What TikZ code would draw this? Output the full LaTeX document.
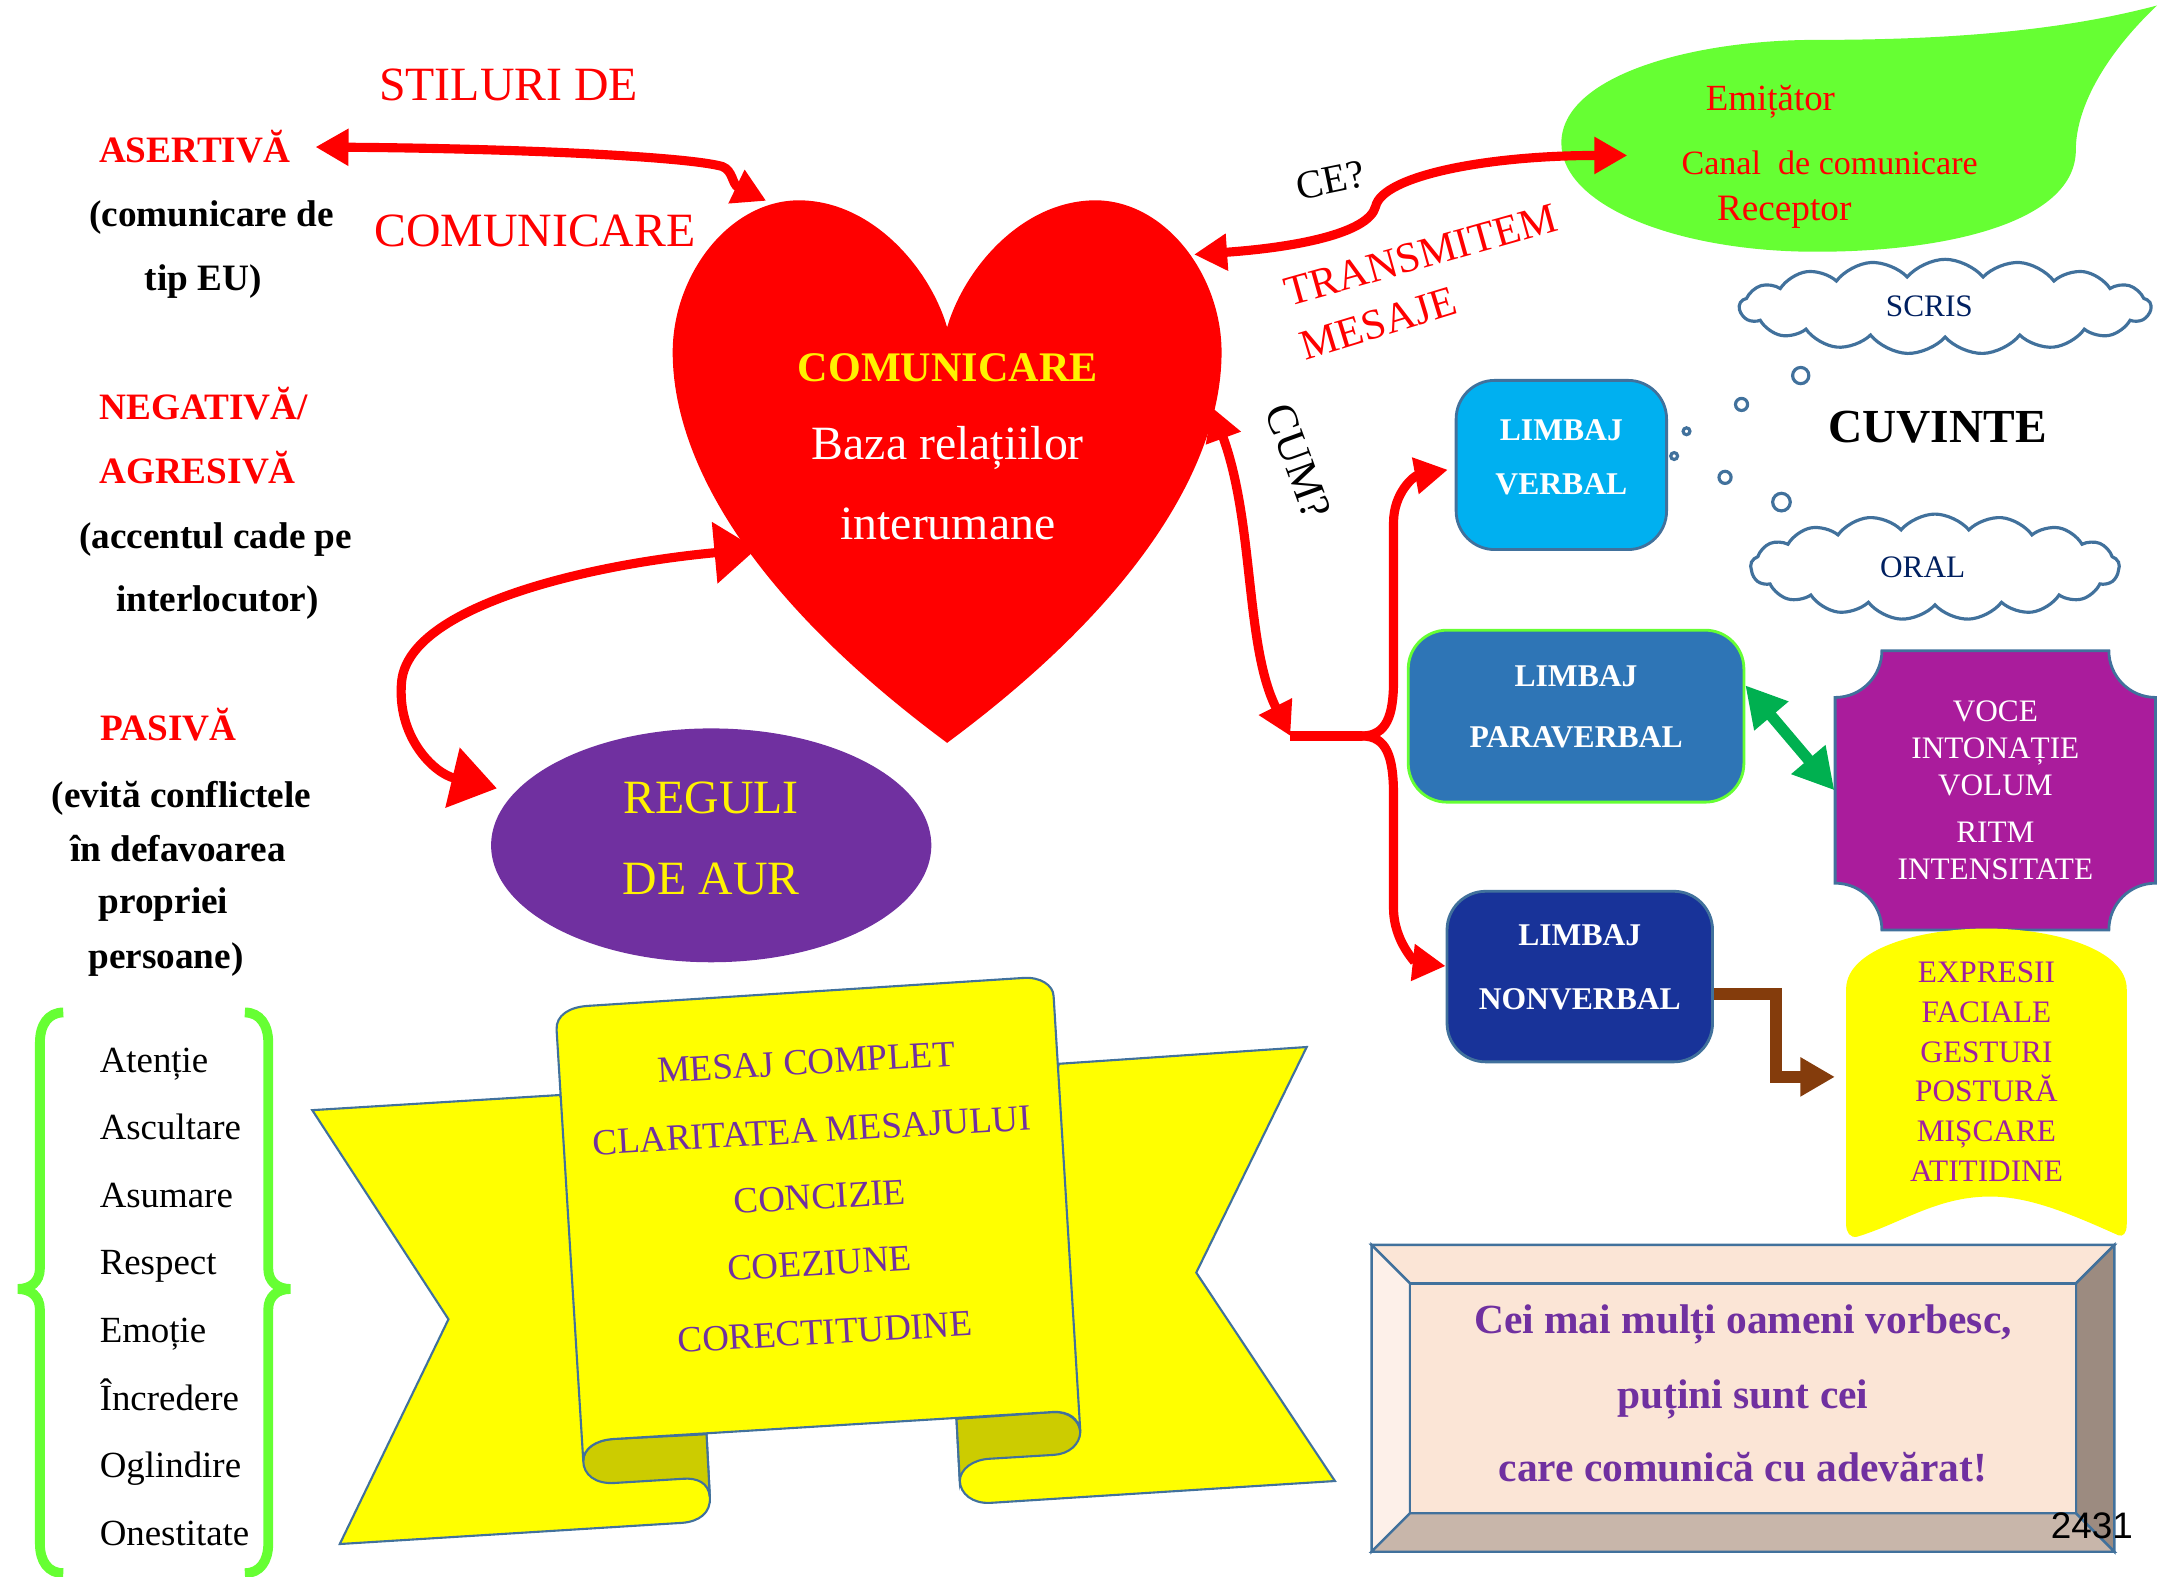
\documentclass[tikz,border=0pt]{standalone}
\usepackage{fontspec}
\setmainfont{Liberation Serif}
\newfontfamily\arialfont{Liberation Sans}
\usetikzlibrary{arrows.meta,shapes.geometric,shapes.symbols}

\definecolor{heartred}{HTML}{FF0000}
\definecolor{leafgreen}{HTML}{66FF33}
\definecolor{skyblue}{HTML}{00B0F0}
\definecolor{midblue}{HTML}{2E75B6}
\definecolor{navyblue}{HTML}{183399}
\definecolor{plumpurple}{HTML}{AA1C9C}
\definecolor{edgeblue}{HTML}{41719C}
\definecolor{cloudtext}{HTML}{002060}
\definecolor{regpurple}{HTML}{7030A0}
\definecolor{ribbonyellow}{HTML}{FFFF00}
\definecolor{folddark}{HTML}{CCCC00}
\definecolor{arrowgreen}{HTML}{00B050}
\definecolor{arrowbrown}{HTML}{843C0C}
\definecolor{magentatext}{HTML}{A020A0}
\definecolor{peach}{HTML}{FBE5D6}
\definecolor{peachlight}{HTML}{FDF0E9}
\definecolor{bevelright}{HTML}{9C8B80}
\definecolor{bevelbottom}{HTML}{C8B6AA}

\newcommand{\pu}{0.013756cm}
\newcommand{\lowstrut}[1]{\rule[-#1]{0pt}{#1}}

\begin{document}
\begin{tikzpicture}[x=0.013756cm, y=-0.013756cm,
  txt/.style={anchor=base, inner sep=0pt},
  bigred/.style={txt, text=red, font=\fontsize{13.6}{16}\selectfont},
  stilred/.style={txt, text=red, font=\fontsize{10.6}{12}\selectfont\bfseries},
  stilnote/.style={txt, font=\fontsize{10.6}{12}\selectfont\bfseries},
  bracetxt/.style={txt, anchor=base west, font=\fontsize{10.5}{12}\selectfont},
  greenbrace/.style={draw=leafgreen, line width=2.8pt},
  redline/.style={draw=red, line width=2.6pt},
  redarr/.style={redline, {Triangle[length=9.4pt,width=10pt]}-{Triangle[length=9.4pt,width=10pt]}},
  redtip/.style={redline, -{Triangle[length=9.4pt,width=10pt]}},
  bigredarr/.style={redline, {Triangle[length=12pt,width=17pt]}-{Triangle[length=13pt,width=17pt]}},
  limbaj/.style={rectangle, rounded corners=11pt, text=white, align=center, inner sep=0pt, line width=0.8pt},
  cloudy/.style={cloud, cloud puffs=17, cloud puff arc=100, aspect=4, draw=edgeblue, fill=white,
    line width=0.9pt, text=cloudtext, font=\fontsize{8.9}{10}\selectfont, inner sep=0pt},
  bubble/.style={draw=edgeblue, line width=0.9pt, fill=white},
  ribbon/.style={draw=edgeblue, line width=0.6pt, fill=ribbonyellow},
  ribbontxt/.style={txt, rotate=3.3, text=regpurple, font=\fontsize{10.5}{12}\selectfont},
  bevel/.style={draw=edgeblue, line width=0.7pt},
  quotetxt/.style={txt, text=regpurple, font=\fontsize{11.8}{14}\selectfont\bfseries},
  greenarr/.style={draw=arrowgreen, line width=3.2pt, {Triangle[length=11.5pt,width=12pt]}-{Triangle[length=11.5pt,width=12pt]}},
  brownarr/.style={draw=arrowbrown, line width=3.5pt, -{Triangle[length=9.8pt,width=10.5pt]}, shorten >=3pt},
]
\useasboundingbox (0,0) rectangle (1568,1146);

% stiluri de comunicare
\node[bigred] (stiluri) at (369.7,73) {STILURI DE};
\node[bigred] (stilcom) at (388.9,179.4) {COMUNICARE};
\node[stilred] (asertiva) at (141.5,118.4) {ASERTIVĂ};
\node[stilnote] (asertiva1) at (153.8,164.9) {(comunicare de};
\node[stilnote] (asertiva2) at (147.6,211) {tip EU)};
\node[stilred] (negativa) at (148,305) {NEGATIVĂ/};
\node[stilred] (agresiva) at (143.6,351.4) {AGRESIVĂ};
\node[stilnote] (agresiva1) at (156.8,398.5) {(accentul cade pe};
\node[stilnote] (agresiva2) at (158,444.6) {interlocutor)};
\node[stilred] (pasiva) at (122.7,538.5) {PASIVĂ};
\node[stilnote] (pasiva1) at (132,587) {(evită conflictele};
\node[stilnote] (pasiva2) at (129.3,626) {în defavoarea};
\node[stilnote] (pasiva3) at (118.8,664) {propriei};
\node[stilnote] (pasiva4) at (120.6,704) {persoane)};

% acolade verzi
\draw[greenbrace] (46,736) .. controls (35,736) and (29,745) .. (29,758) -- (29,922)
  .. controls (29,932) and (22,937) .. (13,937) .. controls (22,937) and (29,942) .. (29,952)
  -- (29,1122) .. controls (29,1135) and (35,1143.6) .. (46,1143.6);
\draw[greenbrace] (178,736) .. controls (189,736) and (195,745) .. (195,758) -- (195,922)
  .. controls (195,932) and (202,937) .. (211,937) .. controls (202,937) and (195,942) .. (195,952)
  -- (195,1122) .. controls (195,1135) and (189,1143.6) .. (178,1143.6);
\foreach \w [count=\i from 0] in {Atenție,Ascultare,Asumare,Respect,Emoție,Încredere,Oglindire,Onestitate}
  \node[bracetxt] (valoare\i) at (72,{779.5+49.1*\i}) {\w};

% inima
\fill[heartred] (688.5,238) .. controls (676,195) and (634,146) .. (581,145.6)
  .. controls (530,145.6) and (489,200) .. (489,256)
  .. controls (489,330) and (540,430) .. (688.5,540)
  .. controls (837,430) and (888,330) .. (888,256)
  .. controls (888,200) and (847,145.6) .. (796,145.6)
  .. controls (743,146) and (701,195) .. (688.5,238) -- cycle;
\node[txt, text=yellow, font=\fontsize{12}{14}\selectfont\bfseries] (heartttl) at (689,277) {COMUNICARE};
\node[txt, text=white, font=\fontsize{13.6}{16}\selectfont] (heartbaza) at (689,334) {Baza relațiilor};
\node[txt, text=white, font=\fontsize{13.6}{16}\selectfont] (heartinter) at (689,392) {interumane};
\coordinate (heartTL) at (557,146);
\coordinate (heartL) at (550,399);
\coordinate (heartTR) at (868,185);
\coordinate (heartR) at (881,296);

% reguli de aur
\node[ellipse, fill=regpurple, minimum width=320*\pu, minimum height=170*\pu, inner sep=0pt,
  text=yellow, align=center, font=\fontsize{13.6}{23}\selectfont] (reguli) at (517,614.5)
  {REGULI\\DE AUR\lowstrut{4pt}};

% frunza verde
\fill[leafgreen] (1135,104) .. controls (1135,55) and (1230,29) .. (1320,29)
  .. controls (1420,29) and (1500,22) .. (1568,4)
  .. controls (1528,42) and (1509,80) .. (1509,109)
  .. controls (1509,160) and (1420,183) .. (1320,183)
  .. controls (1220,183) and (1135,150) .. (1135,104) -- cycle;
\node[txt, text=red, font=\fontsize{10.5}{12}\selectfont] (emitator) at (1287,80) {Emițător};
\node[txt, text=red, font=\fontsize{9.7}{12}\selectfont] (canal) at (1330,126.5) {Canal\ \ de comunicare};
\node[txt, text=red, font=\fontsize{10.6}{12}\selectfont] (receptor) at (1297,160) {Receptor};
\coordinate (leafin) at (1183,113);

\node[txt, rotate=11.7, font=\fontsize{11.4}{13}\selectfont] (ce) at (969.3,140.5) {CE?};
\node[txt, rotate=15.7, text=red, font=\fontsize{12.1}{14}\selectfont] (transmitem) at (1035.5,195) {TRANSMITEM};
\node[txt, rotate=17, text=red, font=\fontsize{12.1}{14}\selectfont] (mesaje) at (1005,244.7) {MESAJE};
\node[txt, rotate=-70, font=\fontsize{12.4}{14}\selectfont] (cum) at (934,339) {CUM?};

% cuvinte
\node[cloudy, minimum width=299*\pu, minimum height=69*\pu] (scris) at (1414,223) {SCRIS\kern9pt\null};
\node[cloudy, minimum width=268*\pu, minimum height=77*\pu] (oral) at (1406.6,412.2) {ORAL\kern7pt\null};
\foreach \bx/\by/\br in {1309/273/5.9, 1266/294/4.4, 1226/313.5/2.5, 1217/331.5/2.5, 1254/347/4.4, 1295/365/6.4}
  \draw[bubble] (\bx,\by) circle[radius=\br];
\node[txt, font=\fontsize{13.5}{16}\selectfont\bfseries] (cuvinte) at (1408.5,322) {CUVINTE};

% tipuri de limbaj
\node[limbaj, fill=skyblue, draw=edgeblue, minimum width=153*\pu, minimum height=123*\pu,
  font=\fontsize{9}{15.3}\selectfont\bfseries] (verbal) at (1135,338) {LIMBAJ\\VERBAL\lowstrut{4.5pt}};
\node[limbaj, fill=midblue, draw=leafgreen, minimum width=244*\pu, minimum height=125*\pu,
  font=\fontsize{9}{17.6}\selectfont\bfseries] (paraverbal) at (1145.7,520.6) {LIMBAJ\\PARAVERBAL\lowstrut{5.5pt}};
\node[limbaj, fill=navyblue, draw=edgeblue, minimum width=193*\pu, minimum height=124*\pu,
  font=\fontsize{9}{18.3}\selectfont\bfseries] (nonverbal) at (1148.4,709.9) {LIMBAJ\\NONVERBAL\lowstrut{5.5pt}};

% placa violet
\filldraw[fill=plumpurple, draw=edgeblue, line width=0.8pt] (1368,473) -- (1533,473)
  arc[start angle=180, end angle=90, radius=34] -- (1567,642)
  arc[start angle=270, end angle=180, radius=34] -- (1368,676)
  arc[start angle=0, end angle=-90, radius=34] -- (1334,507)
  arc[start angle=90, end angle=0, radius=34] -- cycle;
\node[align=center, text=white, inner sep=0pt, minimum width=233*\pu,
  font=\fontsize{8.9}{10.5}\selectfont] (voce) at (1450.5,574.5)
  {VOCE\\INTONAȚIE\\VOLUM\\[2.7pt]RITM\\INTENSITATE};

% forma galbena
\fill[ribbonyellow] (1342,719) .. controls (1342,690) and (1395,675) .. (1444,675)
  .. controls (1493,675) and (1546,690) .. (1546,719) -- (1546,890)
  .. controls (1546,897) and (1543,899) .. (1540,898)
  .. controls (1500,880) and (1470,868) .. (1440,870)
  .. controls (1405,872) and (1380,890) .. (1350,899)
  .. controls (1345,900) and (1342,896) .. (1342,890) -- cycle;
\node[align=center, text=magentatext, inner sep=0pt, minimum width=204*\pu,
  font=\fontsize{8.9}{11.3}\selectfont] (expresii) at (1444,779)
  {EXPRESII\\FACIALE\\GESTURI\\POSTURĂ\\MIȘCARE\\ATITIDINE};

% panglica
\path[ribbon] (227,807) -- (407,796) -- (513.6,1043) -- (516,1088)
  .. controls (517,1100) and (508,1106) .. (496,1107) -- (247,1122.4) -- (326,959) -- cycle;
\path[ribbon] (769.8,773.3) -- (949.9,761.1) -- (869.6,925.1) -- (970.4,1076.6) -- (719.6,1092.5)
  .. controls (707,1093) and (698,1086) .. (697.7,1076.4) -- (695.3,1031.4) -- cycle;
\path[ribbon, fill=folddark] (445.5,1046) -- (513.6,1042.6) -- (516,1088)
  .. controls (515,1078) and (507,1074) .. (496,1075) -- (447,1078)
  .. controls (433,1079) and (424,1072) .. (424,1062)
  .. controls (424,1053) and (433,1047) .. (445.5,1046) -- cycle;
\path[ribbon, fill=folddark] (695.3,1031.4) -- (765.9,1026.4)
  .. controls (777,1026) and (785,1033) .. (785.3,1041)
  .. controls (785,1050) and (777,1057) .. (766,1057.6) -- (719.6,1060.4)
  .. controls (707,1061) and (698,1068) .. (697.7,1076.4) -- cycle;
\path[ribbon] (404.6,748.6) .. controls (404,738) and (414,732) .. (427.5,731.2) -- (743.9,710.9)
  .. controls (756,710) and (765.5,716) .. (765.9,724) -- (785.3,1040.3)
  .. controls (784,1031) and (777,1026) .. (765.9,1026.4) -- (445.5,1046.1)
  .. controls (433,1047) and (424,1053) .. (424,1062) -- cycle;
\foreach \rt/\rx/\ry [count=\i] in {MESAJ COMPLET/586.7/781, CLARITATEA MESAJULUI/590.6/830.5,
    CONCIZIE/596.4/878.7, COEZIUNE/596.4/927.1, CORECTITUDINE/600.3/977}
  \node[ribbontxt] (regula\i) at (\rx,\ry) {\rt};

% caseta citat
\path[bevel, fill=peach] (997,905) -- (1537,905) -- (1509,933) -- (1025,933) -- cycle;
\path[bevel, fill=peachlight] (997,905) -- (1025,933) -- (1025,1100) -- (997,1128) -- cycle;
\path[bevel, fill=bevelright] (1537,905) -- (1537,1128) -- (1509,1100) -- (1509,933) -- cycle;
\path[bevel, fill=bevelbottom] (997,1128) -- (1537,1128) -- (1509,1100) -- (1025,1100) -- cycle;
\path[bevel, fill=peach] (1025,933) rectangle (1509,1100);
\foreach \qt/\qy [count=\i] in {{Cei mai mulți oameni vorbesc,}/969.3, {puțini sunt cei}/1023.8,
    {care comunică cu adevărat!}/1077.1}
  \node[quotetxt] (citat\i) at (1267,\qy) {\qt};
\node[txt, font=\arialfont\fontsize{10.5}{12}\selectfont] (pagina) at (1520.7,1118.3) {2431};

% sageti
\draw[redarr] ([xshift=7pt]asertiva.east) .. controls (380,108) and (500,114) .. (525,121)
  .. controls (533,124) and (532,134) .. (heartTL);
\draw[bigredarr, shorten >=5pt] (heartL) .. controls (430,410) and (298,440) .. (292,495)
  .. controls (288,535) and (315,562) .. (reguli.165);
\draw[redarr] (heartTR) .. controls (940,180) and (995,170) .. (1000,150)
  .. controls (1005,128) and (1080,113) .. (leafin);
\coordinate (stem) at (938,535);
\coordinate (fork) at (990,535);
\draw[redarr] (heartR) .. controls (912,380) and (905,470) .. (stem);
\draw[redline] (stem) -- (fork);
\draw[redtip, shorten >=2pt] (fork) .. controls (1008,535) and (1013,520) .. (1013,495) -- (1013,380)
  .. controls (1013,358) and (1028,346) .. ([yshift=-1pt]verbal.west);
\draw[redtip] (fork) .. controls (1008,535) and (1013,550) .. (1013,578) -- (1013,660)
  .. controls (1013,685) and (1030,700) .. ([yshift=3pt]nonverbal.west);
\draw[greenarr] ([yshift=8.8pt]paraverbal.east) -- (voce.west);
\draw[brownarr] ([yshift=-5pt]nonverbal.east) -- ++(45,0) |- ([yshift=-1.5pt]expresii.west);
\end{tikzpicture}
\end{document}
